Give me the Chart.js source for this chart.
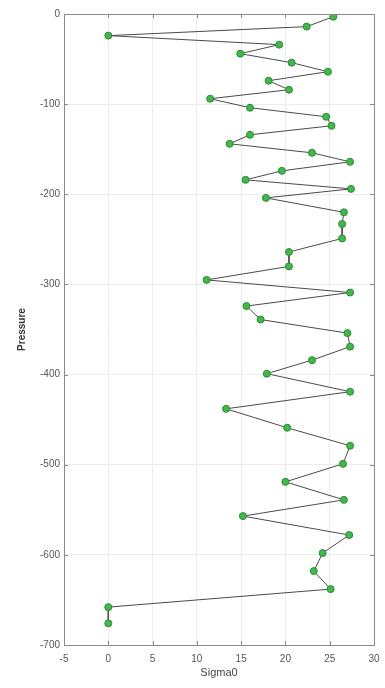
<!DOCTYPE html>
<html>
<head>
<meta charset="utf-8">
<script src="https://cdn.jsdelivr.net/npm/chart.js@4"></script>
<style>
  html, body { margin: 0; padding: 0; background: #ffffff; }
  #wrap { width: 385px; height: 688px; }
</style>
</head>
<body>
<div id="wrap"><canvas id="c" width="385" height="688"></canvas></div>
<script>
// Profile samples, ordered from the surface downward
const pressure = [
  -3, -14, -24, -34, -44, -54, -64, -74, -84, -94,
  -104, -114, -124, -134, -144, -154, -164, -174, -184, -194,
  -204, -220, -233, -249, -264, -280, -295, -309, -324, -339,
  -354, -369, -384, -399, -419, -438, -459, -479, -499, -519,
  -539, -557, -578, -598, -618, -638, -658, -676
];
const sigma0 = [
  25.4, 22.4, 0, 19.3, 14.9, 20.7, 24.8, 18.1, 20.4, 11.5,
  16.0, 24.6, 25.2, 16.0, 13.7, 23.0, 27.3, 19.6, 15.5, 27.4,
  17.8, 26.6, 26.4, 26.4, 20.4, 20.4, 11.1, 27.3, 15.6, 17.2,
  27.0, 27.3, 23.0, 17.9, 27.3, 13.3, 20.2, 27.3, 26.5, 20.0,
  26.6, 15.2, 27.2, 24.2, 23.2, 25.1, 0, 0
];
const xTicks = [-5, 0, 5, 10, 15, 20, 25, 30];
const yTicks = [0, -100, -200, -300, -400, -500, -600, -700];

const AXIS_COLOR = '#8a8a8a';
const TEXT_COLOR = '#555555';

// Box around the plot area with inward tick marks on all four sides
const boxPlugin = {
  id: 'box',
  afterDatasetsDraw(chart) {
    const { ctx, chartArea: a, scales } = chart;
    ctx.save();
    ctx.strokeStyle = AXIS_COLOR;
    ctx.lineWidth = 1;
    ctx.strokeRect(Math.round(a.left) + 0.5, Math.round(a.top) + 0.5,
                   Math.round(a.right - a.left), Math.round(a.bottom - a.top));
    const len = 4;
    ctx.beginPath();
    xTicks.forEach(v => {
      const x = Math.round(scales.x.getPixelForValue(v)) + 0.5;
      ctx.moveTo(x, a.bottom); ctx.lineTo(x, a.bottom - len);
      ctx.moveTo(x, a.top); ctx.lineTo(x, a.top + len);
    });
    yTicks.forEach(v => {
      const y = Math.round(scales.y.getPixelForValue(v)) + 0.5;
      ctx.moveTo(a.left, y); ctx.lineTo(a.left + len, y);
      ctx.moveTo(a.right, y); ctx.lineTo(a.right - len, y);
    });
    ctx.stroke();
    ctx.restore();
  }
};

const points = pressure.map((p, i) => ({ x: sigma0[i], y: p }));

new Chart(document.getElementById('c'), {
  type: 'scatter',
  data: {
    datasets: [{
      data: points,
      showLine: true,
      borderColor: '#4a4a4a',
      borderWidth: 1,
      pointBackgroundColor: '#3fb94a',
      pointBorderColor: '#2c8a34',
      pointBorderWidth: 1,
      pointRadius: 3.5,
      pointHoverRadius: 3.5,
      tension: 0
    }]
  },
  options: {
    responsive: false,
    animation: false,
    devicePixelRatio: 1,
    layout: { padding: { top: 14, right: 11, left: 0, bottom: 0 } },
    plugins: { legend: { display: false }, tooltip: { enabled: false } },
    scales: {
      x: {
        type: 'linear',
        min: -5, max: 30,
        afterBuildTicks(s) { s.ticks = xTicks.map(v => ({ value: v })); },
        afterFit(s) { s.height = 43; s.paddingLeft = 0; s.paddingRight = 0; },
        grid: { color: '#ececec', drawTicks: false, tickLength: 0 },
        border: { display: false },
        ticks: { color: TEXT_COLOR, padding: 8, font: { family: 'Liberation Sans', size: 10 } },
        title: { display: true, text: 'Sigma0', color: '#444444', padding: { top: 2, bottom: 8 },
                 font: { family: 'Liberation Sans', size: 11 } }
      },
      y: {
        type: 'linear',
        min: -700, max: 0,
        afterBuildTicks(s) { s.ticks = yTicks.map(v => ({ value: v })); },
        afterFit(s) { s.width = 64; s.paddingTop = 0; s.paddingBottom = 0; },
        grid: { color: '#ececec', drawTicks: false, tickLength: 0 },
        border: { display: false },
        ticks: { color: TEXT_COLOR, padding: 4, font: { family: 'Liberation Sans', size: 10 } },
        title: { display: true, text: 'Pressure', color: '#333333', padding: { top: 16, bottom: 0 },
                 font: { family: 'Liberation Sans', size: 10, weight: 'bold' } }
      }
    }
  },
  plugins: [boxPlugin]
});
</script>
</body>
</html>
